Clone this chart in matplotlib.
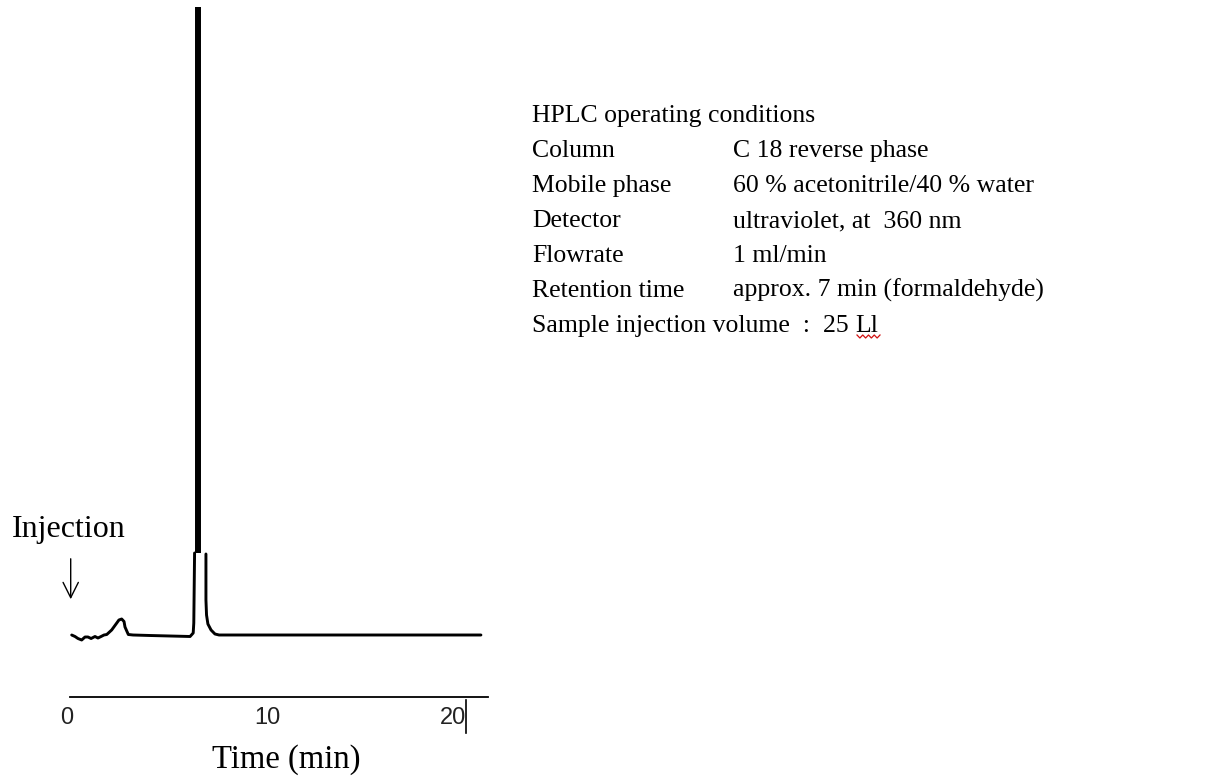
import matplotlib
matplotlib.use("Agg")
import matplotlib.pyplot as plt
import matplotlib.transforms as mtransforms
from matplotlib.lines import Line2D
import numpy as np

# chromatogram trace (time in min, detector signal in arbitrary units)
# the formaldehyde peak goes off scale, so the trace is broken at the top
time = [0.29, 0.46, 0.61, 0.80, 0.97, 1.12, 1.28, 1.48, 1.63, 1.79, 1.94,
        2.08, 2.33, 2.59, 2.70, 2.84, 2.96, 3.01, 3.10, 3.18, 3.42, 4.29,
        5.31, 6.33, 6.49, 6.52, 6.56,
        np.nan,
        7.14, 7.14, 7.17, 7.24, 7.40, 7.60, 7.81, 12.0, 17.0, 21.17]
signal = [0.10, -0.05, -0.25, -0.40, -0.10, -0.10, -0.25, -0.05, -0.20, -0.05, 0.10,
          0.15, 0.60, 1.30, 1.60, 1.70, 1.45, 0.90, 0.50, 0.15, 0.10, 0.05,
          0.0, -0.05, 0.30, 1.30, 8.30,
          np.nan,
          8.20, 3.60, 2.10, 1.20, 0.60, 0.20, 0.10, 0.10, 0.10, 0.10]

# off-scale part of the main peak
peak_time = 6.73
peak_low = 8.3
peak_high = 62.9

injection_time = 0.24

xticks = [0, 10, 20]
xticklabels = ["0", "10", "20"]

conditions = [
    ("HPLC operating conditions", ""),
    ("Column", "C 18 reverse phase"),
    ("Mobile phase", "60 % acetonitrile/40 % water"),
    ("Detector", "ultraviolet, at  360 nm"),
    ("Flowrate", "1 ml/min"),
    ("Retention time", "approx. 7 min (formaldehyde)"),
    ("Sample injection volume  :  25", ""),
]
volume_unit = "Ll"

W, H = 1213, 778
fig = plt.figure(figsize=(W / 100, H / 100), dpi=100)
fig.patch.set_facecolor("white")

# axes placed so that 1 min = 19.6 px, 0 min at x = 66 px
x0, px_per_min = 66, 19.6
base_py, px_per_unit = 636, 10
left_px, right_px, bottom_px, top_px = 0, 520, 697, 0
ax = fig.add_axes([left_px / W, 1 - bottom_px / H,
                   (right_px - left_px) / W, (bottom_px - top_px) / H])
ax.set_xlim((left_px - x0) / px_per_min, (right_px - x0) / px_per_min)
ax.set_ylim((base_py - bottom_px) / px_per_unit, (base_py - top_px) / px_per_unit)
ax.patch.set_alpha(0)

ax.plot(time, signal, color="black", lw=2.1, solid_joinstyle="round",
        solid_capstyle="round")
ax.plot([peak_time, peak_time], [peak_low, peak_high], color="black",
        lw=4.3, solid_capstyle="butt")

for s in ["left", "right", "top"]:
    ax.spines[s].set_visible(False)
ax.spines["bottom"].set_bounds(0.2, 21.53)
ax.spines["bottom"].set_linewidth(1.3)
ax.set_yticks([])
ax.set_xticks(xticks)
ax.set_xticklabels(xticklabels, family="Liberation Sans", fontsize=17,
                   color="#222222")
ax.tick_params(axis="x", length=0, pad=7)

# the hand-placed labels sit a little off the even spacing
nudges = [1, 5, -5]
for lab, dx in zip(ax.get_xticklabels(), nudges):
    lab.set_transform(lab.get_transform() +
                      mtransforms.ScaledTranslation(dx / 100, 0, fig.dpi_scale_trans))

# injection marker
ax.annotate("", xy=(injection_time, 3.4), xytext=(injection_time, 8.0),
            arrowprops=dict(arrowstyle="->,head_length=0.5,head_width=0.25",
                            lw=1.0, color="black", mutation_scale=22))
ax.text(injection_time - 0.1, 10.6, "Injection", family="Liberation Serif",
        fontsize=23, ha="center", va="center")

fig.text(286 / W, 1 - 760 / H, "Time (min)", family="Liberation Serif",
         fontsize=23.5, ha="center", va="center")

# text cursor after the last tick label
fig.add_artist(Line2D([466 / W, 466 / W], [1 - 700 / H, 1 - 733 / H],
                      color="black", lw=1.2))

# operating conditions block
for i, (name, value) in enumerate(conditions):
    y = 1 - (122 + 35 * i) / H
    fig.text(532 / W, y, name, family="Liberation Serif", fontsize=18.5,
             va="baseline", ha="left")
    if value:
        fig.text(733 / W, y, value, family="Liberation Serif", fontsize=18.5,
                 va="baseline", ha="left")
fig.text(855 / W, 1 - (122 + 35 * 6) / H, volume_unit, family="Liberation Serif",
         fontsize=18.5, va="baseline", ha="left")

# spell-check squiggle under the unit
sq_x = np.linspace(857, 880, 9)
sq_y = 335 + np.array([0, 3, 0, 3, 0, 3, 0, 3, 0])
fig.add_artist(Line2D(sq_x / W, 1 - sq_y / H, color="#d01010", lw=0.9))

fig.savefig("out.png", dpi=100)
